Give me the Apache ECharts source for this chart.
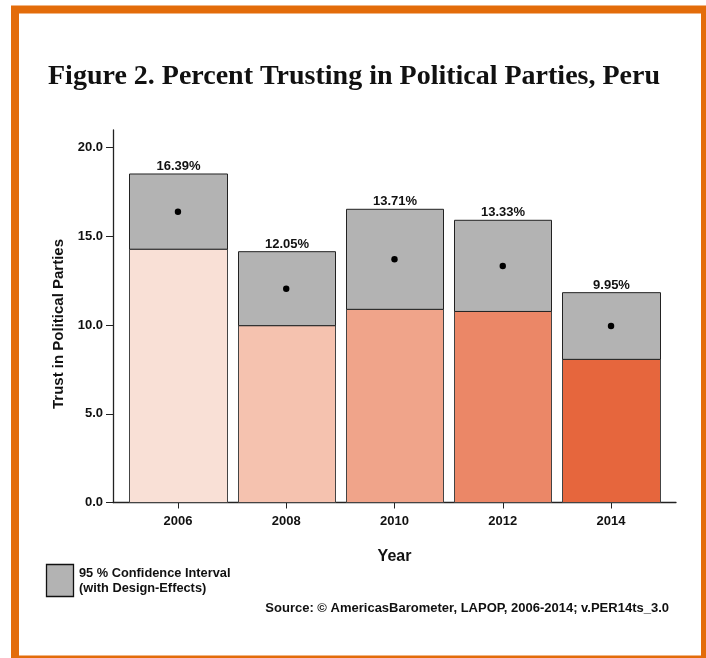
<!DOCTYPE html>
<html>
<head>
<meta charset="utf-8">
<script src="https://cdn.jsdelivr.net/npm/echarts@6/dist/echarts.min.js"></script>
<style>
html,body{margin:0;padding:0;background:#fff;}
#chart{width:706px;height:658px;}
</style>
</head>
<body>
<div id="chart"></div>
<script>
const years = [2006, 2008, 2010, 2012, 2014];
const means = [16.39, 12.05, 13.71, 13.33, 9.95];
const lower = [14.28, 9.97, 10.89, 10.77, 8.07];
const upper = [18.52, 14.14, 16.53, 15.91, 11.83];
const barColors = ['#F9E0D6', '#F5C2AF', '#F0A48A', '#EB8767', '#E6663D'];
const yTicks = [0, 5, 10, 15, 20];

const data = years.map((y, i) => [y, means[i], lower[i], upper[i], i]);
const chart = echarts.init(document.getElementById('chart'), null, {renderer: 'canvas'});
const F = 'Liberation Sans, Arial, sans-serif';

chart.setOption({
  animation: false,
  backgroundColor: '#fff',
  grid: {left: 113, right: 30, top: 130, bottom: 155.5, containLabel: false},
  xAxis: {
    type: 'value', min: 2004.8, max: 2015.2,
    name: 'Year', nameLocation: 'middle', nameGap: 46,
    nameTextStyle: {fontFamily: F, fontWeight: 'bold', fontSize: 16, color: '#111'},
    axisLine: {show: true, lineStyle: {color: '#222', width: 1.3}},
    axisTick: {show: true, length: 6, customValues: years, lineStyle: {color: '#222'}},
    axisLabel: {customValues: years, margin: 12, fontFamily: F, fontWeight: 'bold', fontSize: 13, color: '#111', formatter: v => String(v)},
    splitLine: {show: false}
  },
  yAxis: {
    type: 'value', min: 0, max: 21,
    axisLine: {show: true, lineStyle: {color: '#222', width: 1.3}},
    axisTick: {show: true, length: 7, customValues: yTicks, lineStyle: {color: '#222'}},
    axisLabel: {customValues: yTicks, margin: 10, fontFamily: F, fontWeight: 'bold', fontSize: 13, color: '#111', formatter: v => v.toFixed(1)},
    splitLine: {show: false}
  },
  series: [{
    type: 'custom',
    data: data,
    encode: {x: 0, y: [1, 2, 3]},
    renderItem: function (params, api) {
      const yr = api.value(0), m = api.value(1), lo = api.value(2), hi = api.value(3), idx = api.value(4);
      const pL = api.coord([yr - 0.9, 0]);
      const pR = api.coord([yr + 0.9, 0]);
      const yLo = api.coord([yr, lo])[1];
      const yHi = api.coord([yr, hi])[1];
      const pm = api.coord([yr, m]);
      const x0 = Math.round(pL[0]) + 0.5, x1 = Math.round(pR[0]) + 0.5;
      const y0 = pL[1];
      return {
        type: 'group',
        children: [
          {type: 'rect', shape: {x: x0, y: yLo, width: x1 - x0, height: y0 - yLo},
           style: {fill: barColors[idx], stroke: '#444', lineWidth: 1}},
          {type: 'rect', shape: {x: x0, y: yHi, width: x1 - x0, height: yLo - yHi},
           style: {fill: '#B3B3B3', stroke: '#222', lineWidth: 1}},
          {type: 'circle', shape: {cx: pm[0], cy: pm[1], r: 3.2}, style: {fill: '#000'}},
          {type: 'text', x: (x0 + x1) / 2, y: yHi - 1,
           style: {text: means[idx].toFixed(2) + '%', align: 'center', verticalAlign: 'bottom',
                   font: 'bold 13px ' + F, fill: '#111'}}
        ]
      };
    }
  }],
  graphic: [
    {type: 'rect', shape: {x: 15, y: 9.5, width: 690, height: 650}, style: {fill: 'none', stroke: '#E36C0A', lineWidth: 8}, silent: true},
    {type: 'text', x: 354, y: 77, style: {text: 'Figure 2. Percent Trusting in Political Parties, Peru', align: 'center', verticalAlign: 'middle',
      font: 'bold 28px "Liberation Serif", "Times New Roman", serif', fill: '#111'}},
    {type: 'text', x: 59, y: 324, rotation: Math.PI / 2, style: {text: 'Trust in Political Parties', align: 'center', verticalAlign: 'middle',
      font: 'bold 15px ' + F, fill: '#111'}},
    {type: 'rect', shape: {x: 46.5, y: 564.5, width: 27, height: 32}, style: {fill: '#B3B3B3', stroke: '#111', lineWidth: 1.3}},
    {type: 'text', x: 79, y: 573, style: {text: '95 % Confidence Interval', align: 'left', verticalAlign: 'middle', font: 'bold 12.8px ' + F, fill: '#111'}},
    {type: 'text', x: 79, y: 588, style: {text: '(with Design-Effects)', align: 'left', verticalAlign: 'middle', font: 'bold 12.8px ' + F, fill: '#111'}},
    {type: 'text', x: 669, y: 608, style: {text: 'Source: \u00A9 AmericasBarometer, LAPOP, 2006-2014; v.PER14ts_3.0', align: 'right', verticalAlign: 'middle', font: 'bold 13px ' + F, fill: '#111'}}
  ]
});
</script>
</body>
</html>
